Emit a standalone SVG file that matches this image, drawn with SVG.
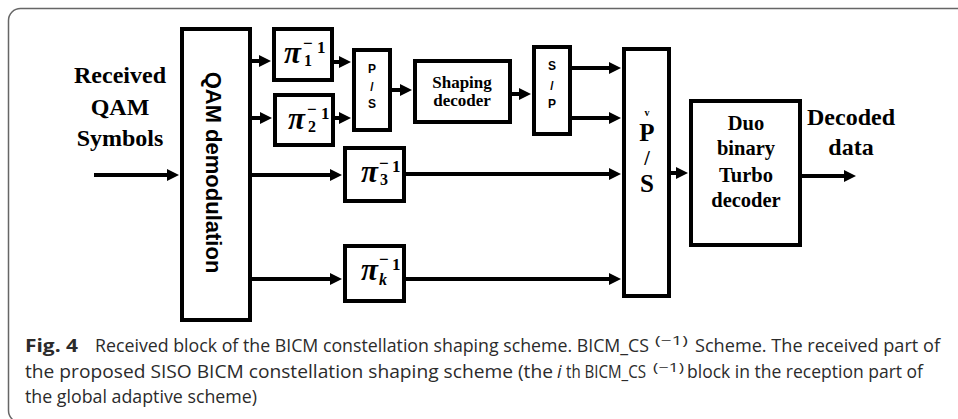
<svg xmlns="http://www.w3.org/2000/svg" width="958" height="419" viewBox="0 0 958 419">
<style>
.box{fill:#fff;stroke:#000;stroke-width:4}
.wire{stroke:#000;stroke-width:4;fill:none}
.lbl{font-family:"Liberation Serif","DejaVu Serif",serif;font-weight:bold;fill:#000}
.sans{font-family:"Liberation Sans","DejaVu Sans",sans-serif;font-weight:bold;fill:#000}
.pi{font-family:"Liberation Serif","DejaVu Serif",serif;font-weight:bold;fill:#000}
.cap{font-family:"Open Sans","Noto Sans","Liberation Sans",sans-serif;font-size:18px;fill:#2b2b2b}
.sup{font-size:13px}
</style>
<defs>
<marker id="ah" markerUnits="userSpaceOnUse" markerWidth="13" markerHeight="13" refX="1" refY="6" orient="auto">
<path d="M0,0 L12,6 L0,12 z" fill="#000"/>
</marker>
</defs>
<rect x="8.5" y="8.5" width="980" height="414" rx="12" fill="none" stroke="#666" stroke-width="1.5"/>

<g id="input-label">
<text class="lbl" font-size="24" text-anchor="middle" x="120" y="83">Received</text>
<text class="lbl" font-size="24" text-anchor="middle" x="120" y="115">QAM</text>
<text class="lbl" font-size="24" text-anchor="middle" x="120" y="146">Symbols</text>
</g>

<g id="qam">
<rect class="box" x="182" y="29" width="68" height="291"/>
<text class="sans" font-size="22" text-anchor="middle" transform="translate(206,172.5) rotate(90)">QAM demodulation</text>
</g>

<g id="pi1">
<rect class="box" x="274" y="29" width="58" height="51"/>
<text class="pi" transform="translate(284,27)"><tspan x="0" y="36" font-size="31" font-style="italic">π</tspan><tspan x="19" y="22" font-size="17">−</tspan><tspan x="20" y="39" font-size="16">1</tspan><tspan x="33" y="26" font-size="17">1</tspan></text>
</g>
<g id="pi2">
<rect class="box" x="275" y="95" width="58" height="50"/>
<text class="pi" transform="translate(288,93)"><tspan x="0" y="36" font-size="31" font-style="italic">π</tspan><tspan x="19" y="22" font-size="17">−</tspan><tspan x="20" y="39" font-size="16">2</tspan><tspan x="33" y="26" font-size="17">1</tspan></text>
</g>
<g id="pi3">
<rect class="box" x="345" y="148" width="59" height="53"/>
<text class="pi" transform="translate(361,146)"><tspan x="0" y="36" font-size="31" font-style="italic">π</tspan><tspan x="18" y="23" font-size="17">−</tspan><tspan x="19" y="39" font-size="16">3</tspan><tspan x="31" y="26" font-size="17">1</tspan></text>
</g>
<g id="pik">
<rect class="box" x="345" y="246" width="59" height="55"/>
<text class="pi" transform="translate(361,244)"><tspan x="0" y="36" font-size="31" font-style="italic">π</tspan><tspan x="18" y="21" font-size="17">−</tspan><tspan x="18" y="41" font-size="16" font-style="italic">k</tspan><tspan x="31" y="26" font-size="17">1</tspan></text>
</g>

<g id="ps">
<rect class="box" x="354" y="50" width="36" height="80"/>
<text class="sans" font-size="12" text-anchor="middle" x="372" y="73">P</text>
<text class="sans" font-size="12" text-anchor="middle" x="372" y="91">/</text>
<text class="sans" font-size="12" text-anchor="middle" x="372" y="108">S</text>
</g>

<g id="shaping">
<rect class="box" x="415" y="61" width="95" height="61"/>
<text class="lbl" font-size="17" text-anchor="middle" x="462" y="88">Shaping</text>
<text class="lbl" font-size="17" text-anchor="middle" x="462" y="106">decoder</text>
</g>

<g id="sp">
<rect class="box" x="534" y="47" width="36" height="87"/>
<text class="sans" font-size="12" text-anchor="middle" x="552" y="70">S</text>
<text class="sans" font-size="12" text-anchor="middle" x="552" y="90">/</text>
<text class="sans" font-size="12" text-anchor="middle" x="552" y="108">P</text>
</g>

<g id="vps">
<rect class="box" x="624" y="49" width="45" height="247"/>
<text class="lbl" font-size="10" text-anchor="middle" x="647" y="116">v</text>
<text class="lbl" font-size="25" text-anchor="middle" x="647" y="141">P</text>
<text class="lbl" font-size="20" text-anchor="middle" x="647" y="165">/</text>
<text class="lbl" font-size="25" text-anchor="middle" x="647" y="192">S</text>
</g>

<g id="duo">
<rect class="box" x="691" y="101" width="109" height="144"/>
<text class="lbl" font-size="20.5" text-anchor="middle" x="746" y="130">Duo</text>
<text class="lbl" font-size="20.5" text-anchor="middle" x="746" y="155">binary</text>
<text class="lbl" font-size="20.5" text-anchor="middle" x="746" y="182">Turbo</text>
<text class="lbl" font-size="20.5" text-anchor="middle" x="746" y="207">decoder</text>
</g>

<g id="output-label">
<text class="lbl" font-size="24" text-anchor="middle" x="851" y="125">Decoded</text>
<text class="lbl" font-size="24" text-anchor="middle" x="851" y="155">data</text>
</g>

<g id="connectors">
<line class="wire" x1="94" y1="175" x2="168" y2="175" marker-end="url(#ah)"/>
<line class="wire" x1="252" y1="61" x2="260" y2="61" marker-end="url(#ah)"/>
<line class="wire" x1="252" y1="118" x2="261" y2="118" marker-end="url(#ah)"/>
<line class="wire" x1="334" y1="62" x2="340" y2="62" marker-end="url(#ah)"/>
<line class="wire" x1="335" y1="118" x2="340" y2="118" marker-end="url(#ah)"/>
<line class="wire" x1="392" y1="90" x2="401" y2="90" marker-end="url(#ah)"/>
<line class="wire" x1="512" y1="94" x2="520" y2="94" marker-end="url(#ah)"/>
<line class="wire" x1="572" y1="68" x2="610" y2="68" marker-end="url(#ah)"/>
<line class="wire" x1="572" y1="118" x2="610" y2="118" marker-end="url(#ah)"/>
<line class="wire" x1="252" y1="175" x2="331" y2="175" marker-end="url(#ah)"/>
<line class="wire" x1="406" y1="174" x2="610" y2="174" marker-end="url(#ah)"/>
<line class="wire" x1="252" y1="279" x2="331" y2="279" marker-end="url(#ah)"/>
<line class="wire" x1="406" y1="279" x2="610" y2="279" marker-end="url(#ah)"/>
<line class="wire" x1="671" y1="173" x2="677" y2="173" marker-end="url(#ah)"/>
<line class="wire" x1="802" y1="176" x2="845" y2="176" marker-end="url(#ah)"/>
</g>

<g id="caption">
<text class="cap" x="25" y="352" font-weight="bold" textLength="53" lengthAdjust="spacingAndGlyphs">Fig. 4</text>
<text class="cap" x="95" y="352" textLength="554" lengthAdjust="spacingAndGlyphs">Received block of the BICM constellation shaping scheme. BICM_CS</text>
<text class="cap sup" x="655" y="345" textLength="33" lengthAdjust="spacingAndGlyphs">(−1)</text>
<text class="cap" x="695" y="352" textLength="245" lengthAdjust="spacingAndGlyphs">Scheme. The received part of</text>
<text class="cap" x="25" y="378" textLength="528" lengthAdjust="spacingAndGlyphs">the proposed SISO BICM constellation shaping scheme (the</text>
<text class="cap" x="557" y="378" font-style="italic">i</text>
<text class="cap" x="566" y="378" textLength="80" lengthAdjust="spacingAndGlyphs">th BICM_CS</text>
<text class="cap sup" x="653" y="372" textLength="31" lengthAdjust="spacingAndGlyphs">(−1)</text>
<text class="cap" x="687" y="378" textLength="236" lengthAdjust="spacingAndGlyphs">block in the reception part of</text>
<text class="cap" x="25" y="403" textLength="232" lengthAdjust="spacingAndGlyphs">the global adaptive scheme)</text>
</g>
</svg>
